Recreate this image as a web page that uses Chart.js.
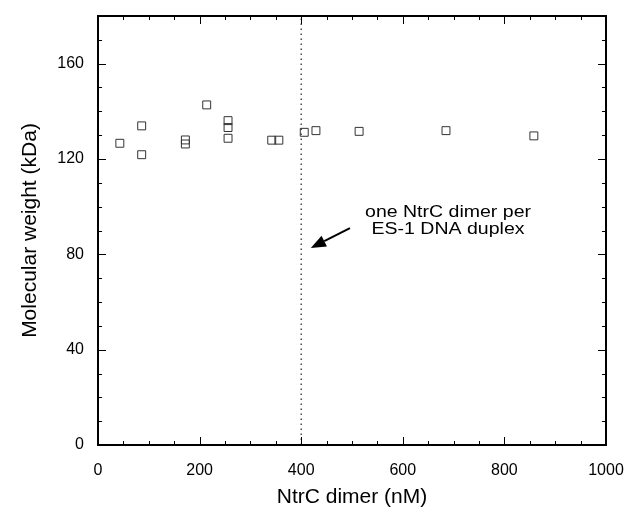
<!DOCTYPE html>
<html>
<head>
<meta charset="utf-8">
<script src="https://cdn.jsdelivr.net/npm/chart.js@4.4.1/dist/chart.umd.min.js"></script>
<style>
  html, body { margin: 0; padding: 0; background: #fff; }
  #wrap { width: 632px; height: 517px; }
</style>
</head>
<body>
<div id="wrap"><canvas id="mwChart" width="632" height="517"></canvas></div>
<script>
// NtrC dimer concentration (nM) vs apparent molecular weight (kDa)
const ntrcDimer = [43, 86, 86, 172, 172, 214, 256, 256, 256, 342, 356, 406, 429, 514, 685, 858];
const molWeight = [126.6, 133.9, 121.8, 128.0, 126.3, 142.7, 136.1, 133.2, 128.7, 127.9, 127.9, 131.2, 131.9, 131.6, 131.9, 129.7];

// stoichiometry marker: one dimer per DNA duplex
const duplexConc = 400;

// axis ticks
const xLabelTicks = [0, 200, 400, 600, 800, 1000];
const xMinorTicks = [50, 100, 150, 250, 300, 350, 450, 500, 550, 650, 700, 750, 850, 900, 950];
const yLabelTicks = [0, 40, 80, 120, 160];
const yMinorTicks = [10, 20, 30, 50, 60, 70, 90, 100, 110, 130, 140, 150, 170];

const noteLines = ['one NtrC dimer per', 'ES-1 DNA duplex'];

const FONT = '"Liberation Sans", Arial, Helvetica, sans-serif';

// frame, inward tick marks, arrow and note
const framePlugin = {
    id: 'frame',
    afterDatasetsDraw(chart) {
        const { ctx, chartArea: a, scales } = chart;
        const xs = scales.x, ys = scales.y;
        ctx.save();
        ctx.strokeStyle = '#000';
        ctx.lineWidth = 1;

        const tick = (x1, y1, x2, y2) => {
            ctx.beginPath();
            ctx.moveTo(x1, y1);
            ctx.lineTo(x2, y2);
            ctx.stroke();
        };
        xLabelTicks.forEach(v => {
            const px = Math.round(xs.getPixelForValue(v)) + 0.5;
            tick(px, a.bottom, px, a.bottom - 8);
            tick(px, a.top, px, a.top + 8);
        });
        xMinorTicks.forEach(v => {
            const px = Math.round(xs.getPixelForValue(v)) + 0.5;
            tick(px, a.bottom, px, a.bottom - 4);
            tick(px, a.top, px, a.top + 4);
        });
        yLabelTicks.forEach(v => {
            const py = Math.round(ys.getPixelForValue(v)) + 0.5;
            tick(a.left, py, a.left + 8, py);
            tick(a.right, py, a.right - 8, py);
        });
        yMinorTicks.forEach(v => {
            const py = Math.round(ys.getPixelForValue(v)) + 0.5;
            tick(a.left, py, a.left + 4, py);
            tick(a.right, py, a.right - 4, py);
        });

        ctx.lineWidth = 2;
        ctx.strokeRect(a.left, a.top, a.right - a.left, a.bottom - a.top);

        // arrow pointing at the dotted line
        const x0 = xs.getPixelForValue(496), y0 = ys.getPixelForValue(91);
        const x1 = xs.getPixelForValue(419), y1 = ys.getPixelForValue(82.7);
        const ang = Math.atan2(y1 - y0, x1 - x0);
        const headLen = 15, headW = 6;
        const bx = x1 - headLen * Math.cos(ang), by = y1 - headLen * Math.sin(ang);
        ctx.lineWidth = 2;
        tick(x0, y0, bx, by);
        ctx.fillStyle = '#000';
        ctx.beginPath();
        ctx.moveTo(x1, y1);
        ctx.lineTo(bx + headW * Math.sin(ang), by - headW * Math.cos(ang));
        ctx.lineTo(bx - headW * Math.sin(ang), by + headW * Math.cos(ang));
        ctx.closePath();
        ctx.fill();

        // note text, set in a wide face
        ctx.font = '16px ' + FONT;
        ctx.textAlign = 'center';
        ctx.textBaseline = 'middle';
        const nx = xs.getPixelForValue(689);
        const stretch = 1.22;
        [97.6, 90.4].forEach((v, i) => {
            ctx.save();
            ctx.translate(nx, ys.getPixelForValue(v));
            ctx.scale(stretch, 1);
            ctx.fillText(noteLines[i], 0, 0);
            ctx.restore();
        });
        ctx.restore();
    }
};

const ctx = document.getElementById('mwChart').getContext('2d');
new Chart(ctx, {
    type: 'scatter',
    data: {
        datasets: [
            {
                data: ntrcDimer.map((x, i) => ({ x: x, y: molWeight[i] })),
                pointStyle: 'rect',
                pointRadius: 5.6,
                pointBorderWidth: 1,
                pointBorderColor: '#333',
                pointBackgroundColor: 'rgba(255,255,255,0)'
            },
            {
                type: 'line',
                data: [{ x: duplexConc, y: 0 }, { x: duplexConc, y: 180 }],
                borderColor: '#222',
                borderWidth: 1.2,
                borderDash: [1.5, 3.5],
                pointRadius: 0
            }
        ]
    },
    options: {
        responsive: false,
        animation: false,
        devicePixelRatio: 1,
        layout: { padding: { top: 16, right: 26, left: 0, bottom: 0 } },
        plugins: { legend: { display: false }, tooltip: { enabled: false } },
        scales: {
            x: {
                type: 'linear',
                min: 0, max: 1000,
                afterBuildTicks: s => { s.ticks = xLabelTicks.map(v => ({ value: v })); },
                afterFit: s => { s.height = 72; s.paddingLeft = 0; s.paddingRight = 0; },
                grid: { display: false, drawTicks: false },
                border: { display: false },
                ticks: {
                    color: '#000', padding: 16, maxRotation: 0, autoSkip: false,
                    font: { family: FONT, size: 16 },
                    callback: v => String(v)
                },
                title: {
                    display: true, text: 'NtrC dimer (nM)', color: '#000',
                    font: { family: FONT, size: 21 }, padding: { top: 0, bottom: 7 }
                }
            },
            y: {
                min: 0, max: 180,
                afterBuildTicks: s => { s.ticks = yLabelTicks.map(v => ({ value: v })); },
                afterFit: s => { s.width = 98; s.paddingTop = 0; s.paddingBottom = 0; },
                grid: { display: false, drawTicks: false },
                border: { display: false },
                ticks: { color: '#000', padding: 14, autoSkip: false, font: { family: FONT, size: 16 } },
                title: {
                    display: true, text: 'Molecular weight (kDa)', color: '#000',
                    font: { family: FONT, size: 21 }, padding: { top: 18, bottom: 0 }
                }
            }
        }
    },
    plugins: [framePlugin]
});
</script>
</body>
</html>
